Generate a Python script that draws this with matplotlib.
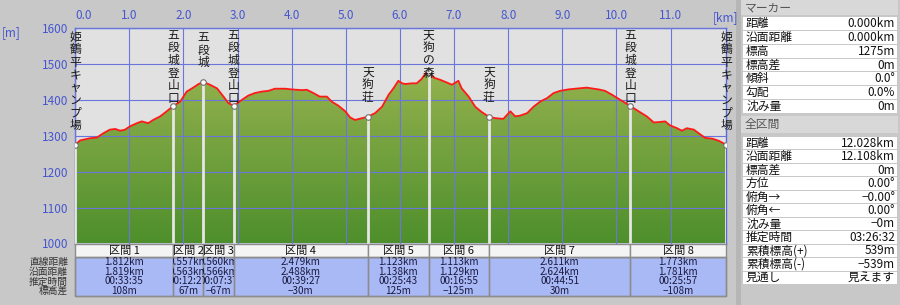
import numpy as np
import matplotlib
matplotlib.use('Agg')
import matplotlib.pyplot as plt
from matplotlib.patches import Rectangle, Polygon
from matplotlib.colors import LinearSegmentedColormap
from matplotlib import transforms

plt.rcParams['font.family'] = ['Noto Sans CJK JP', 'DejaVu Sans']

# elevation profile (km, m)
dist = [0.00, 0.09, 0.27, 0.40, 0.52, 0.64, 0.74, 0.83, 0.92, 1.01, 1.14, 1.23, 1.35,
        1.44, 1.57, 1.69, 1.812, 1.94, 2.06, 2.18, 2.28, 2.369, 2.49, 2.62, 2.74, 2.83,
        2.929, 3.08, 3.20, 3.32, 3.45, 3.57, 3.69, 3.88, 4.00, 4.19, 4.28, 4.40, 4.52,
        4.65, 4.74, 4.86, 4.99, 5.08, 5.17, 5.30, 5.408, 5.54, 5.67, 5.79, 5.88, 5.97,
        6.04, 6.10, 6.22, 6.31, 6.40, 6.50, 6.531, 6.62, 6.74, 6.87, 6.96, 7.08, 7.14,
        7.27, 7.39, 7.51, 7.644, 7.76, 7.91, 8.04, 8.13, 8.22, 8.35, 8.47, 8.59, 8.72,
        8.84, 8.96, 9.11, 9.24, 9.45, 9.67, 9.79, 9.92, 10.07, 10.255, 10.41, 10.56,
        10.69, 10.78, 10.90, 10.99, 11.12, 11.21, 11.30, 11.43, 11.52, 11.64, 11.77,
        11.89, 12.028]
elev = [1275, 1287, 1293, 1295, 1307, 1317, 1319, 1314, 1317, 1326, 1335, 1340, 1335,
        1344, 1354, 1368, 1383, 1395, 1423, 1434, 1444, 1450, 1442, 1432, 1409, 1391,
        1383, 1400, 1412, 1419, 1423, 1425, 1431, 1431, 1429, 1427, 1428, 1419, 1409,
        1409, 1395, 1384, 1368, 1351, 1344, 1349, 1353, 1363, 1381, 1414, 1432, 1453,
        1446, 1444, 1446, 1446, 1458, 1479, 1478, 1462, 1456, 1448, 1442, 1453, 1432,
        1409, 1381, 1366, 1353, 1349, 1347, 1368, 1354, 1356, 1363, 1381, 1395, 1405,
        1419, 1425, 1429, 1431, 1434, 1429, 1425, 1414, 1400, 1383, 1368, 1354, 1337,
        1338, 1340, 1329, 1321, 1314, 1321, 1317, 1307, 1294, 1292, 1286, 1275]

start_elev = 1275
marker_names = ['姫鶴平キャンプ場', '五段城登山口', '五段城', '五段城登山口', '天狗荘',
                '天狗の森', '天狗荘', '五段城登山口', '姫鶴平キャンプ場']

# section table
sec_straight = [1.812, 0.557, 0.560, 2.479, 1.123, 1.113, 2.611, 1.773]
sec_surface = [1.819, 0.563, 0.566, 2.488, 1.138, 1.129, 2.624, 1.781]
sec_time = ['00:33:35', '00:12:27', '00:07:37', '00:39:27', '00:25:43', '00:16:55',
            '00:44:51', '00:25:57']
sec_diff = [108, 67, -67, -30, 125, -125, 30, -108]
row_names = ['直線距離', '沿面距離', '推定時間', '標高差']

x_ticks = [0, 1, 2, 3, 4, 5, 6, 7, 8, 9, 10, 11]
y_ticks = [1000, 1100, 1200, 1300, 1400, 1500, 1600]

# side panel
marker_rows = ['距離', '沿面距離', '標高', '標高差', '傾斜', '勾配', '沈み量']
marker_vals = ['0.000km', '0.000km', '1275m', '0m', '0.0°', '0.0%', '0m']
total_rows = ['距離', '沿面距離', '標高差', '方位', '俯角→', '俯角←', '沈み量',
              '推定時間', '累積標高(+)', '累積標高(-)', '見通し']
total_vals = ['12.028km', '12.108km', '0m', '0.00°', '−0.00°', '0.00°', '−0m',
              '03:26:32', '539m', '−539m', '見えます']

marker_km = np.concatenate([[0], np.cumsum(sec_straight)])
marker_elev = np.concatenate([[start_elev], start_elev + np.cumsum(sec_diff)])
total = marker_km[-1]


def fmt_m(v):
    return ('−' if v < 0 else '') + f'{abs(v)}m'


blue = '#4656d0'
fig = plt.figure(figsize=(9, 3.05), dpi=100, facecolor='#c8c8c8')
ax = fig.add_axes([75.2 / 900, 61.5 / 305, 651 / 900, 215.5 / 305])
ov = fig.add_axes([0, 0, 1, 1])
ov.set_xlim(0, 900)
ov.set_ylim(305, 0)
ov.axis('off')

ax.set_facecolor('#e1e1e1')

# gradient filled terrain
verts = list(zip(dist, elev)) + [(total, 1000), (0, 1000)]
poly = Polygon(verts, closed=True, fc='none', ec='none')
ax.add_patch(poly)
cmap = LinearSegmentedColormap.from_list('terrain_g', ['#4e8f2c', '#94b24e'])
grad = np.linspace(0, 1, 256).reshape(-1, 1)
im = ax.imshow(grad, extent=[0, total, 1000, max(elev)], origin='lower',
               aspect='auto', cmap=cmap, zorder=1)
im.set_clip_path(poly)

ax.plot(dist, elev, color='#ff1a1a', lw=1.3, zorder=4)

for k, e in zip(marker_km, marker_elev):
    ax.plot([k, k], [1000, e], color='#e6e6e6', lw=2, zorder=3, solid_capstyle='butt')
ax.plot(marker_km, marker_elev, 'o', ms=4, mfc='white', mec='#707070', mew=0.8, zorder=5)

ax.set_xlim(0, total)
ax.set_ylim(1000, 1600)
ax.set_xticks(x_ticks)
ax.set_xticklabels([f'{t:.1f}' for t in x_ticks])
ax.set_yticks(y_ticks)
ax.xaxis.tick_top()
ax.tick_params(axis='both', length=0, colors=blue, labelsize=8.5)
ax.tick_params(axis='x', pad=4)
ax.tick_params(axis='y', pad=5)
ax.get_xticklabels()[0].set_ha('left')
ax.grid(True, color='#6a76dc', lw=0.8)
ax.set_axisbelow(False)
for s in ax.spines.values():
    s.set_color('#5868d8')
    s.set_linewidth(1)

ov.text(11, 33, '[m]', color=blue, fontsize=8.5, ha='center', va='center')
ov.text(726, 18, '[km]', color=blue, fontsize=8.5, ha='center', va='center')

# vertical marker names
plot_top = ov.transData.inverted().transform(ax.transAxes.transform((0, 1)))[1]
sp = 12.6
for name, k, e in zip(marker_names, marker_km, marker_elev):
    mx, my = ov.transData.inverted().transform(ax.transData.transform((k, e)))
    top = my - 13 - len(name) * sp
    if top < plot_top + 1:
        top = plot_top + 1
    for i, ch in enumerate(name):
        ov.text(mx, top + (i + 0.5) * sp, ch, fontsize=8.5, color='#1a1a1a',
                ha='center', va='center')

# section table below plot
bt = transforms.blended_transform_factory(ax.transData, ov.transData)
ov.add_patch(Rectangle((0, 257.3), total, 38.7, transform=bt, fc='#a9b9f6',
                       ec='#8c8c8c', lw=1, clip_on=False))
for i in range(len(sec_straight)):
    x0, x1 = marker_km[i], marker_km[i + 1]
    xc = (x0 + x1) / 2
    hdr = Rectangle((x0, 243.8), x1 - x0, 13.5, transform=bt, fc='#f4f4f4',
                    ec='#8c8c8c', lw=1, clip_on=False)
    ov.add_patch(hdr)
    cell = Rectangle((x0, 257.3), x1 - x0, 38.7, transform=bt, fc='none',
                     ec='#8c8c8c', lw=1, clip_on=False)
    ov.add_patch(cell)
    t = ov.text(xc, 250.5, f'区間 {i + 1}', transform=bt, fontsize=8, ha='center',
                va='center', color='#111111', clip_on=True)
    t.set_clip_path(hdr)
    lines = [f'{sec_straight[i]:.3f}km', f'{sec_surface[i]:.3f}km', sec_time[i],
             fmt_m(sec_diff[i])]
    for j, s in enumerate(lines):
        t = ov.text(xc, 262.0 + j * 9.7, s, transform=bt, fontsize=7.2, ha='center',
                    va='center', color='#1a1a40', clip_on=True)
        t.set_clip_path(cell)

for j, s in enumerate(row_names):
    ov.text(68, 262.0 + j * 9.7, s, fontsize=7, ha='right', va='center', color='#333333')

# right side panel
ov.add_patch(Rectangle((736, 0), 5, 305, fc='#b6b6b6', ec='none'))


def panel_block(title, y_title, h_title, y0, rh, names, vals):
    ov.add_patch(Rectangle((741, y_title), 157, h_title, fc='#d8d8d8', ec='none'))
    ov.text(745, y_title + h_title / 2, title, fontsize=8.5, color='#555555',
            ha='left', va='center')
    for i, (n, v) in enumerate(zip(names, vals)):
        y = y0 + i * rh
        ov.add_patch(Rectangle((743, y), 154, rh - 1, fc='white', ec='none'))
        ov.text(746, y + rh / 2 - 0.5, n, fontsize=8.5, color='#111111', ha='left',
                va='center')
        ov.text(895, y + rh / 2 - 0.5, v, fontsize=8.5, color='#111111', ha='right',
                va='center')


panel_block('マーカー', 0, 15, 17, 13.86, marker_rows, marker_vals)
panel_block('全区間', 116, 17, 137, 13.45, total_rows, total_vals)

fig.savefig('out.png', dpi=100, facecolor=fig.get_facecolor())
